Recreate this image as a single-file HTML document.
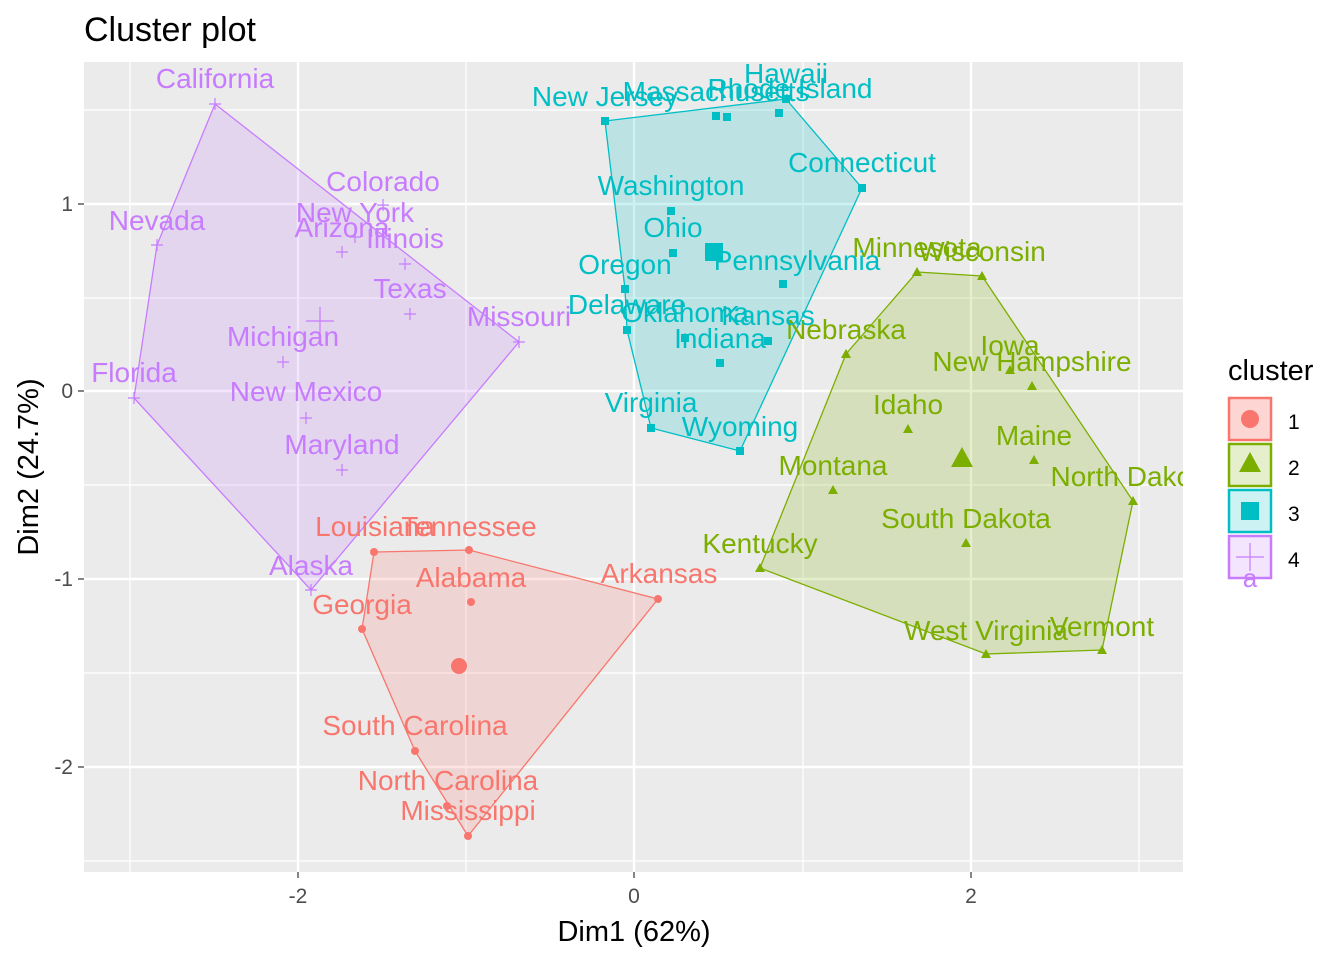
<!DOCTYPE html>
<html><head><meta charset="utf-8"><style>
body{margin:0;background:#fff}
svg text{font-family:"Liberation Sans",Arial,sans-serif}
</style></head><body>
<svg width="1344" height="960" xmlns="http://www.w3.org/2000/svg">
<defs><clipPath id="c"><rect x="84" y="62" width="1099" height="810"/></clipPath></defs>
<rect x="84" y="62" width="1099" height="810" fill="#EBEBEB"/>
<g stroke="#fff" stroke-width="1.2">
<line x1="130" x2="130" y1="62" y2="872"/><line x1="466" x2="466" y1="62" y2="872"/><line x1="803" x2="803" y1="62" y2="872"/><line x1="1139" x2="1139" y1="62" y2="872"/>
<line y1="110" y2="110" x1="84" x2="1183"/><line y1="298" y2="298" x1="84" x2="1183"/><line y1="485" y2="485" x1="84" x2="1183"/><line y1="673" y2="673" x1="84" x2="1183"/><line y1="861" y2="861" x1="84" x2="1183"/>
</g>
<g stroke="#fff" stroke-width="2.4">
<line x1="298" x2="298" y1="62" y2="872"/><line x1="634" x2="634" y1="62" y2="872"/><line x1="971" x2="971" y1="62" y2="872"/>
<line y1="204" y2="204" x1="84" x2="1183"/><line y1="391" y2="391" x1="84" x2="1183"/><line y1="579" y2="579" x1="84" x2="1183"/><line y1="767" y2="767" x1="84" x2="1183"/>
</g>
<g clip-path="url(#c)">
<polygon points="374,552 469,550 658,599 468,836 415,751 362,629" fill="#F8766D" fill-opacity="0.2" stroke="#F8766D" stroke-width="1.3"/>
<polygon points="917,272 982,276 1133,501 1102,650 986,654 760,568 846,354" fill="#7CAE00" fill-opacity="0.2" stroke="#7CAE00" stroke-width="1.3"/>
<polygon points="605,121 786,99 862,188 740,451 651,428 627,330 625,289" fill="#00BFC4" fill-opacity="0.2" stroke="#00BFC4" stroke-width="1.3"/>
<polygon points="215,104 519,342 311,590 134,398 157,245" fill="#C77CFF" fill-opacity="0.2" stroke="#C77CFF" stroke-width="1.3"/>
<g fill="#F8766D">
<circle cx="469" cy="550" r="4"/><circle cx="374" cy="552" r="4"/><circle cx="471" cy="602" r="4"/><circle cx="658" cy="599" r="4"/><circle cx="362" cy="629" r="4"/><circle cx="415" cy="751" r="4"/><circle cx="447" cy="806" r="4"/><circle cx="468" cy="836" r="4"/><circle cx="459" cy="666" r="8"/>
</g>
<g fill="#7CAE00">
<path d="M0,-5 L5,4 L-5,4Z" transform="translate(917,272)"/>
<path d="M0,-5 L5,4 L-5,4Z" transform="translate(982,276)"/><path d="M0,-5 L5,4 L-5,4Z" transform="translate(846,354)"/><path d="M0,-5 L5,4 L-5,4Z" transform="translate(1010,370)"/><path d="M0,-5 L5,4 L-5,4Z" transform="translate(1032,386)"/><path d="M0,-5 L5,4 L-5,4Z" transform="translate(908,429)"/><path d="M0,-5 L5,4 L-5,4Z" transform="translate(1034,460)"/><path d="M0,-5 L5,4 L-5,4Z" transform="translate(1133,501)"/><path d="M0,-5 L5,4 L-5,4Z" transform="translate(833,490)"/><path d="M0,-5 L5,4 L-5,4Z" transform="translate(966,543)"/><path d="M0,-5 L5,4 L-5,4Z" transform="translate(760,568)"/><path d="M0,-5 L5,4 L-5,4Z" transform="translate(986,654)"/><path d="M0,-5 L5,4 L-5,4Z" transform="translate(1102,650)"/>
<path d="M0,-11 L11,9 L-11,9Z" transform="translate(962,458)"/>
</g>
<g fill="#00BFC4">
<rect x="601" y="117" width="8" height="8"/><rect x="712" y="112" width="8" height="8"/><rect x="723" y="113" width="8" height="8"/><rect x="775" y="109" width="8" height="8"/><rect x="782" y="95" width="8" height="8"/><rect x="858" y="184" width="8" height="8"/><rect x="667" y="207" width="8" height="8"/><rect x="669" y="249" width="8" height="8"/><rect x="621" y="285" width="8" height="8"/><rect x="779" y="280" width="8" height="8"/><rect x="623" y="326" width="8" height="8"/><rect x="681" y="334" width="8" height="8"/><rect x="764" y="337" width="8" height="8"/><rect x="716" y="359" width="8" height="8"/><rect x="647" y="424" width="8" height="8"/><rect x="736" y="447" width="8" height="8"/>
<rect x="705" y="243" width="18" height="18"/>
</g>
<g stroke="#C77CFF" stroke-width="1.2">
<path d="M209,104h12M215,98v12M377,205h12M383,199v12M349,237h12M355,231v12M336,252h12M342,246v12M399,264h12M405,258v12M151,245h12M157,239v12M404,314h12M410,308v12M513,342h12M519,336v12M277,362h12M283,356v12M128,398h12M134,392v12M300,418h12M306,412v12M336,470h12M342,464v12M305,590h12M311,584v12"/>
<path d="M306,321h28M320,307v28"/>
</g>
<g font-size="28" text-anchor="middle">
<g fill="#F8766D"><text x="375" y="536">Louisiana</text><text x="469" y="536">Tennessee</text><text x="471" y="587">Alabama</text><text x="659" y="583">Arkansas</text><text x="362" y="614">Georgia</text><text x="415" y="735">South Carolina</text><text x="448" y="790">North Carolina</text><text x="468" y="820">Mississippi</text></g>
<g fill="#7CAE00"><text x="917" y="257">Minnesota</text><text x="982" y="261">Wisconsin</text><text x="846" y="339">Nebraska</text><text x="1010" y="355">Iowa</text><text x="1032" y="371">New Hampshire</text><text x="908" y="414">Idaho</text><text x="1034" y="445">Maine</text><text x="1133" y="486">North Dakota</text><text x="833" y="475">Montana</text><text x="966" y="528">South Dakota</text><text x="760" y="553">Kentucky</text><text x="986" y="640">West Virginia</text><text x="1102" y="636">Vermont</text></g>
<g fill="#00BFC4"><text x="605" y="106">New Jersey</text><text x="716" y="101">Massachusetts</text><text x="790" y="98">Rhode Island</text><text x="786" y="83">Hawaii</text><text x="862" y="172">Connecticut</text><text x="671" y="195">Washington</text><text x="673" y="237">Ohio</text><text x="797" y="270">Pennsylvania</text><text x="625" y="274">Oregon</text><text x="627" y="314">Delaware</text><text x="685" y="322">Oklahoma</text><text x="768" y="325">Kansas</text><text x="720" y="348">Indiana</text><text x="651" y="412">Virginia</text><text x="740" y="436">Wyoming</text></g>
<g fill="#C77CFF"><text x="215" y="88">California</text><text x="383" y="191">Colorado</text><text x="355" y="222">New York</text><text x="342" y="237">Arizona</text><text x="405" y="248">Illinois</text><text x="157" y="230">Nevada</text><text x="410" y="298">Texas</text><text x="519" y="326">Missouri</text><text x="283" y="346">Michigan</text><text x="134" y="382">Florida</text><text x="306" y="401">New Mexico</text><text x="342" y="454">Maryland</text><text x="311" y="575">Alaska</text></g>
</g>
</g>
<g stroke="#333" stroke-width="1.2">
<line x1="298" x2="298" y1="872" y2="878"/><line x1="634" x2="634" y1="872" y2="878"/><line x1="971" x2="971" y1="872" y2="878"/>
<line x1="78" x2="84" y1="204" y2="204"/><line x1="78" x2="84" y1="391" y2="391"/><line x1="78" x2="84" y1="579" y2="579"/><line x1="78" x2="84" y1="767" y2="767"/>
</g>
<g font-size="21" fill="#4D4D4D">
<g text-anchor="middle"><text x="298" y="903">-2</text><text x="634" y="903">0</text><text x="971" y="903">2</text></g>
<g text-anchor="end"><text x="73" y="211">1</text><text x="73" y="398">0</text><text x="73" y="586">-1</text><text x="73" y="774">-2</text></g>
</g>
<text x="634" y="941" font-size="29" text-anchor="middle">Dim1 (62%)</text>
<text transform="translate(38,467) rotate(-90)" font-size="29" text-anchor="middle">Dim2 (24.7%)</text>
<text x="84" y="41" font-size="34">Cluster plot</text>
<text x="1228" y="380" font-size="29">cluster</text>
<g>
<rect x="1229" y="398" width="42" height="42" fill="#F8766D" fill-opacity="0.3" stroke="#F8766D" stroke-width="2.5"/>
<circle cx="1250" cy="419" r="9" fill="#F8766D"/>
<rect x="1229" y="444" width="42" height="42" fill="#7CAE00" fill-opacity="0.2" stroke="#7CAE00" stroke-width="2.5"/>
<path d="M1250,452 L1261,472 L1239,472Z" fill="#7CAE00"/>
<rect x="1229" y="490" width="42" height="42" fill="#00BFC4" fill-opacity="0.2" stroke="#00BFC4" stroke-width="2.5"/>
<rect x="1241" y="502" width="18" height="18" fill="#00BFC4"/>
<rect x="1229" y="536" width="42" height="42" fill="#C77CFF" fill-opacity="0.2" stroke="#C77CFF" stroke-width="2.5"/>
<path d="M1236,557h28M1250,543v28" stroke="#C77CFF" stroke-width="1.2"/>
<text x="1250" y="587" font-size="26" fill="#C77CFF" text-anchor="middle">a</text>
</g>
<g font-size="21"><text x="1288" y="429">1</text><text x="1288" y="475">2</text><text x="1288" y="521">3</text><text x="1288" y="567">4</text></g>
</svg>
</body></html>
